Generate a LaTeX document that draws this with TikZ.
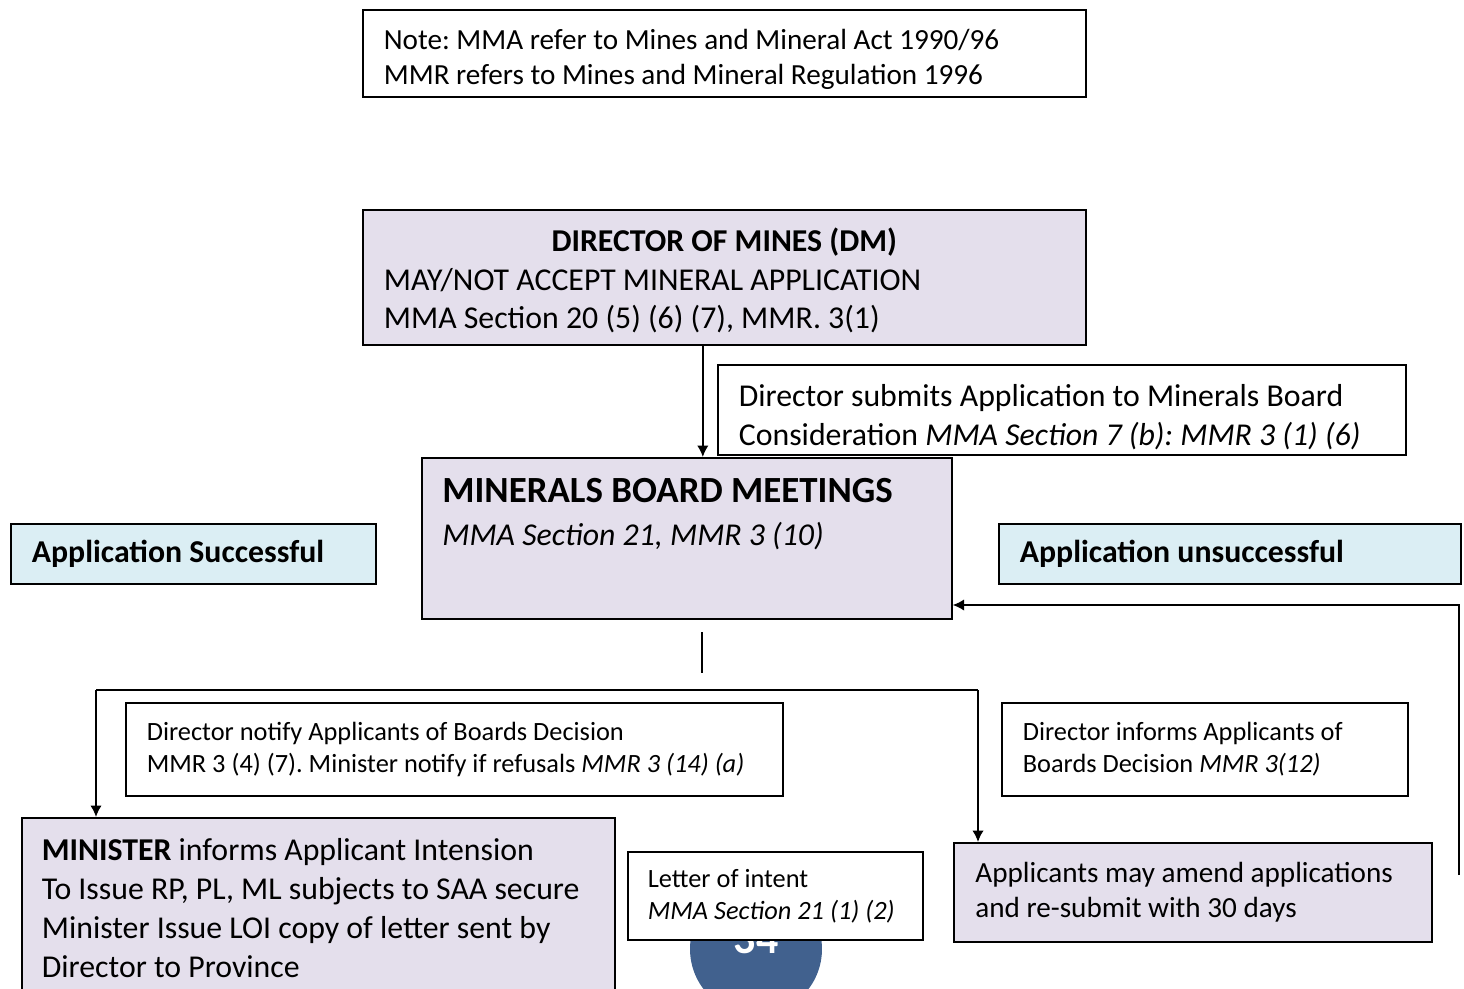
\documentclass[tikz,border=0pt]{standalone}
\usepackage{fontspec}
\setmainfont{Carlito}
\usetikzlibrary{arrows.meta}
\frenchspacing
\hyphenpenalty=10000
\exhyphenpenalty=10000
\definecolor{boxp}{HTML}{E4DFEC}
\definecolor{boxb}{HTML}{DBEEF4}
\definecolor{pgblue}{HTML}{41618E}
\newcommand\padtop[1]{\rule{0pt}{#1}}
\tikzset{box/.style={draw,line width=1pt,anchor=north west,inner xsep=0.42cm,inner ysep=0pt,align=flush left}}
\tikzset{p/.style={box,fill=boxp}}
\tikzset{b/.style={box,fill=boxb}}
\tikzset{w/.style={box,fill=white}}
\tikzset{a/.style={line width=1pt,->,>={Latex[length=6.5pt,width=6.5pt]}}}
\tikzset{fl/.style={font=\fontsize{18.1}{22.1}\selectfont}}
\tikzset{fm/.style={font=\fontsize{16.6}{20.1}\selectfont}}
\tikzset{fs/.style={font=\fontsize{15}{18.1}\selectfont}}

\begin{document}
\begin{tikzpicture}[x=0.02cm,y=-0.02cm]
  \clip (0,0) rectangle (1464,988);
  \fill[white] (0,0) rectangle (1464,988);
  \node[w,fm,minimum width=14.46cm,minimum height=1.74cm,text width=13.62cm] (note) at (362,9) {\padtop{18pt}Note: MMA refer to Mines and Mineral Act 1990/96\\MMR refers to Mines and Mineral Regulation 1996};
  \node[p,fl,minimum width=14.46cm,minimum height=2.7cm,text width=13.62cm] (dm) at (362,209) {\padtop{17pt}\makebox[13.62cm][c]{\bfseries DIRECTOR OF MINES (DM)}\\MAY/NOT ACCEPT MINERAL APPLICATION\\MMA Section 20 (5) (6) (7), MMR. 3(1)};
  \node[w,fl,minimum width=13.76cm,minimum height=1.8cm,text width=12.92cm] (sub) at (717,364) {\padtop{21pt}Director submits Application to Minerals Board\\Consideration \textit{MMA Section 7 (b): MMR 3 (1) (6)}};
  \node[p,minimum width=10.6cm,minimum height=3.22cm] (mb) at (421,457) {};
  \node[anchor=north west,inner sep=0pt,align=flush left,font=\fontsize{18.1}{24.4}\selectfont] (mbt) at (442,478) {{\fontsize{21}{24.4}\selectfont\bfseries MINERALS BOARD MEETINGS}\\\textit{MMA Section 21, MMR 3 (10)}};
  \node[b,fl,minimum width=7.3cm,minimum height=1.2cm,text width=6.46cm] (succ) at (10,523) {\bfseries Application Successful};
  \node[b,fl,minimum width=9.24cm,minimum height=1.2cm,text width=8.4cm] (unsucc) at (998,523) {\bfseries Application unsuccessful};
  \node[w,fs,minimum width=13.14cm,minimum height=1.86cm,text width=12.3cm] (notify) at (125,702) {Director notify Applicants of Boards Decision\\MMR 3 (4) (7). Minister notify if refusals \textit{MMR 3 (14) (a)}};
  \node[w,fs,minimum width=8.12cm,minimum height=1.86cm,text width=7.28cm] (inform) at (1001,702) {Director informs Applicants of\\Boards Decision \textit{MMR 3(12)}};
  \node[p,fl,minimum width=11.86cm,minimum height=3.6cm,text width=11.06cm,inner xsep=0.4cm] (min) at (21,817) {\textbf{MINISTER} informs Applicant Intension\\To Issue RP, PL, ML subjects to SAA secure\\Minister Issue LOI copy of letter sent by\\Director to Province};
  % page number
  \node[circle,fill=pgblue,minimum size=2.64cm,inner sep=0pt] (pg) at (756,949) {};
  \node[text=white,font=\fontsize{25}{30}\selectfont\bfseries] (pgn) at (756,939) {34};
  \node[w,fs,minimum width=5.9cm,minimum height=1.76cm,text width=5.1cm,inner xsep=0.4cm] (loi) at (627,851) {Letter of intent\\\textit{MMA Section 21 (1) (2)}};
  \node[p,fm,minimum width=9.56cm,minimum height=1.98cm,text width=8.7cm] (amend) at (953,842) {Applicants may amend applications\\and re-submit with 30 days};
  % connectors
  \draw[a] ([xshift=-0.43cm]dm.south) -- ([xshift=-0.43cm]dm.south |- mb.north);
  \coordinate (s1) at (702,632);
  \coordinate (s2) at (702,673);
  \draw[line width=1pt] (s1) -- (s2);
  \coordinate (jl) at (96,690);
  \coordinate (jr) at (978,690);
  \draw[line width=1pt] (jl) -- (jr);
  \draw[a] (jl) -- (jl |- min.north);
  \draw[a] (jr) -- (jr |- amend.north);
  \coordinate (fb) at (1459,875);
  \coordinate (fbt) at (1459,605);
  \draw[a] (fb) -- (fbt) -- (fbt -| mb.east);
\end{tikzpicture}
\end{document}
